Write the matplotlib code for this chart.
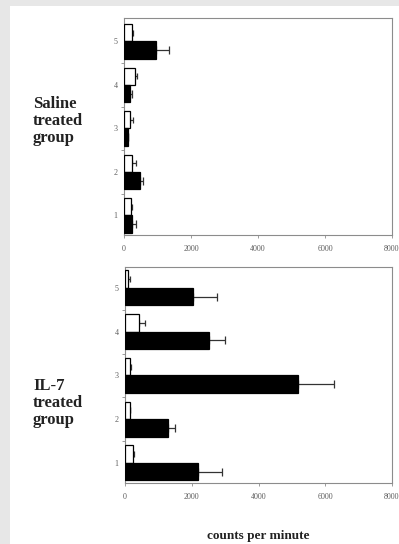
import matplotlib
matplotlib.use("Agg")
import matplotlib.pyplot as plt
from matplotlib.patches import Rectangle
import numpy as np

# Animal numbers within each group
animals = [1, 2, 3, 4, 5]

# Saline treated group (counts per minute)
saline_open = [200, 230, 180, 330, 230]
saline_open_err = [30, 120, 100, 50, 50]
saline_filled = [250, 480, 110, 180, 950]
saline_filled_err = [100, 100, 10, 50, 400]

# IL-7 treated group (counts per minute)
il7_open = [230, 150, 150, 430, 80]
il7_open_err = [30, 0, 30, 170, 80]
il7_filled = [2200, 1275, 5190, 2520, 2050]
il7_filled_err = [720, 220, 1085, 480, 720]

x_ticks = [0, 2000, 4000, 6000, 8000]
group_labels = ["Saline\ntreated\ngroup", "IL-7\ntreated\ngroup"]
x_label = "counts per minute"

W, H = 399, 544
fig = plt.figure(figsize=(W / 100, H / 100), dpi=100, facecolor="#e7e7e7")

# white page area
fig.patches.append(Rectangle((10 / W, 0), 1 - 10 / W, 1 - 6 / H,
                             transform=fig.transFigure, facecolor="white",
                             edgecolor="none", zorder=-5))

serif = ["Liberation Serif", "DejaVu Serif"]
spine_col = "#8c8c8c"
tick_col = "#5e5e5e"
bar_h = 0.4


def panel(rect, open_v, open_e, filled_v, filled_e, ylim):
    ax = fig.add_axes(rect)
    ax.set_zorder(2)
    ax.set_facecolor("white")
    y = np.array(animals, dtype=float)
    ax.barh(y + bar_h / 2, open_v, height=bar_h, color="white",
            edgecolor="black", linewidth=0.9, zorder=3)
    ax.barh(y - bar_h / 2, filled_v, height=bar_h, color="black",
            edgecolor="black", linewidth=0.9, zorder=3)
    ax.errorbar(open_v, y + bar_h / 2,
                xerr=[np.zeros(len(open_e)), open_e], fmt="none",
                ecolor="#333333", elinewidth=0.9, capsize=2.4, capthick=0.9,
                zorder=2)
    ax.errorbar(filled_v, y - bar_h / 2,
                xerr=[np.zeros(len(filled_e)), filled_e], fmt="none",
                ecolor="#333333", elinewidth=0.9, capsize=2.6, capthick=0.9,
                zorder=2)
    ax.set_xlim(0, 8000)
    ax.set_ylim(*ylim)
    ax.set_xticks(x_ticks)
    ax.set_xticklabels([str(v) for v in x_ticks])
    ax.set_yticks(animals)
    ax.set_yticklabels([str(a) for a in animals])
    ax.set_yticks(np.arange(1.5, 5.0, 1.0), minor=True)
    for s in ax.spines.values():
        s.set_color(spine_col)
        s.set_linewidth(0.8)
    ax.tick_params(axis="x", length=2, width=0.6, color=spine_col,
                   labelsize=5.8, labelcolor=tick_col, pad=5)
    ax.tick_params(axis="y", which="major", length=0, labelsize=5.8,
                   labelcolor=tick_col, pad=4.5)
    ax.tick_params(axis="y", which="minor", length=2.5, width=0.6,
                   color=spine_col)
    for lab in ax.get_xticklabels() + ax.get_yticklabels():
        lab.set_family(serif)
    return ax


panel([124 / W, 1 - 235 / H, 268 / W, 217 / H],
      saline_open, saline_open_err, saline_filled, saline_filled_err,
      (0.55, 5.54))
panel([125 / W, 1 - 483 / H, 267 / W, 216 / H],
      il7_open, il7_open_err, il7_filled, il7_filled_err,
      (0.54, 5.48))

fig.text(33 / W, 1 - 96 / H, group_labels[0], ha="left", va="top",
         family=serif, weight="bold", fontsize=12, color="#222222",
         linespacing=1.07)
fig.text(33 / W, 1 - 378 / H, group_labels[1], ha="left", va="top",
         family=serif, weight="bold", fontsize=12, color="#222222",
         linespacing=1.07)
fig.text(258 / W, 1 - 536 / H, x_label, ha="center", va="center",
         family=serif, weight="bold", fontsize=9.5, color="#222222")

fig.savefig("out.png", dpi=100, facecolor=fig.get_facecolor())
